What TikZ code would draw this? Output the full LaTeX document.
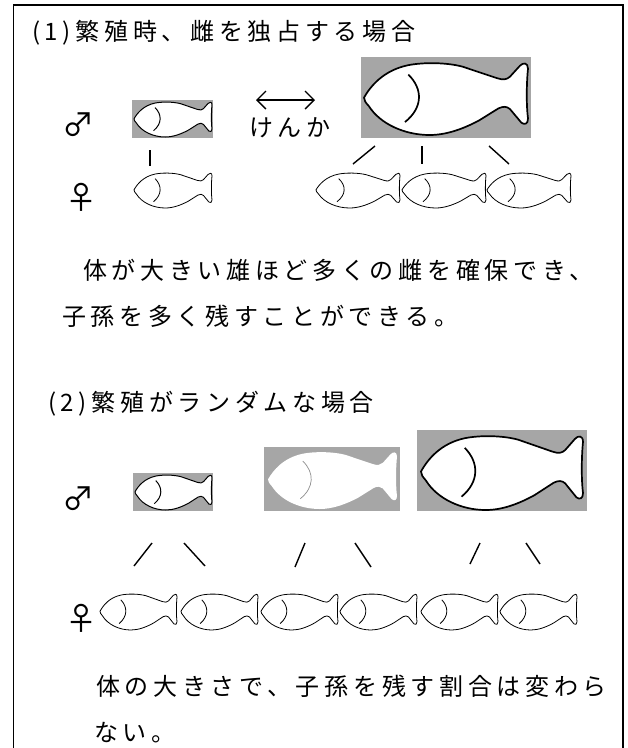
\documentclass[tikz,border=0pt]{standalone}
\usepackage{fontspec}
\setmainfont{Noto Sans CJK JP}
\newfontfamily\jpfont[LetterSpace=19.5]{Noto Sans CJK JP}
\usetikzlibrary{arrows.meta}
\definecolor{boxgray}{RGB}{166,166,166}
\definecolor{gillgray}{RGB}{140,140,140}

% one fish, head to the left, in a W x H box whose top left corner is (x,y)
% #1 x, #2 y, #3 W, #4 H, #5 outline style, #6 gill style
\newcommand\drawfish[6]{%
  \begin{scope}[shift={(#1,#2)},xscale=#3,yscale=#4]
    \path[#5] (0,0.48)
      .. controls (0.04,0.32) and (0.12,0.10) .. (0.27,0.03)
      .. controls (0.36,-0.01) and (0.50,-0.01) .. (0.60,0.05)
      -- (0.81,0.21)
      .. controls (0.85,0.24) and (0.87,0.23) .. (0.89,0.19)
      -- (0.95,0.04)
      .. controls (0.97,-0.01) and (1.00,-0.01) .. (1.00,0.08)
      .. controls (0.99,0.30) and (0.99,0.60) .. (1.00,0.77)
      .. controls (1.00,0.85) and (0.98,0.86) .. (0.96,0.83)
      -- (0.89,0.64)
      .. controls (0.87,0.60) and (0.85,0.60) .. (0.82,0.63)
      -- (0.70,0.80)
      .. controls (0.60,0.92) and (0.50,1.00) .. (0.40,1.00)
      .. controls (0.25,1.00) and (0.10,0.85) .. (0.03,0.60)
      .. controls (0.01,0.55) and (0.00,0.52) .. (0,0.48) -- cycle;
    \path[#6] (0.27,0.16) .. controls (0.36,0.36) and (0.36,0.62) .. (0.25,0.82);
  \end{scope}}

\tikzset{
  jtext/.style={font=\jpfont\fontsize{24}{24}\selectfont,anchor=west,inner sep=0pt},
  sexsym/.style={font=\fontsize{32}{32}\selectfont,inner sep=0pt},
  malebox/.style={fill=boxgray,draw=none,inner sep=0pt,outer sep=0pt,anchor=north west},
  fishbody/.style={fill=white,draw=black,line join=round},
  thinfish/.style={fishbody,line width=0.8pt},
  midfish/.style={fishbody,line width=1pt},
  boldfish/.style={fishbody,line width=1.7pt},
  ghostfish/.style={fill=white,draw=none},
  thingill/.style={draw=black,line width=0.8pt},
  midgill/.style={draw=black,line width=1pt},
  boldgill/.style={draw=black,line width=1.7pt},
  ghostgill/.style={draw=gillgray,line width=0.7pt},
  link/.style={line width=1.4pt},
}

\begin{document}
\begin{tikzpicture}[x=1pt,y=-1pt]
  \useasboundingbox (0,0) rectangle (628,748);
  \fill[white] (0,0) rectangle (628,748);

  % outer frame, open at the bottom
  \draw[line width=1.6pt] (13.5,760) -- (13.5,5) -- (623,5) -- (623,760);

  % ---------- (1) ----------
  \node[jtext] (title1) at (32,33) {(1)繁殖時、雌を独占する場合};

  \node[sexsym] (male1) at (79,125) {♂};
  \node[sexsym] (female1) at (81,197) {♀};

  \node[malebox,minimum width=81pt,minimum height=38pt] (ma) at (132,100) {};
  \drawfish{134}{102}{78}{35}{midfish}{midgill}

  \node[malebox,minimum width=170pt,minimum height=81pt] (mb) at (361,57) {};
  \drawfish{364}{63}{164}{72}{boldfish}{boldgill}

  \coordinate (fightL) at (256,100);
  \coordinate (fightR) at (315,100);
  \draw[line width=1.4pt,{Straight Barb[length=9pt,width=18pt]}-{Straight Barb[length=9pt,width=18pt]}] (fightL) -- (fightR);
  \node[jtext] (kenka) at (249,128) {けんか};

  \coordinate (a1) at (150,150); \coordinate (a2) at (150,166);
  \coordinate (b1) at (375,146); \coordinate (b2) at (353,164);
  \coordinate (c1) at (422,146); \coordinate (c2) at (422,164);
  \coordinate (d1) at (489,146); \coordinate (d2) at (509,164);
  \draw[link] (a1) -- (a2);
  \draw[link] (b1) -- (b2);
  \draw[link] (c1) -- (c2);
  \draw[link] (d1) -- (d2);

  \drawfish{134}{173}{78}{35}{thinfish}{thingill}
  \drawfish{316}{173}{84}{35}{thinfish}{thingill}
  \drawfish{402}{173}{84}{35}{thinfish}{thingill}
  \drawfish{487}{173}{84}{35}{thinfish}{thingill}

  \node[jtext] (p1a) at (83,270) {体が大きい雄ほど多くの雌を確保でき、};
  \node[jtext] (p1b) at (62,316) {子孫を多く残すことができる。};

  % ---------- (2) ----------
  \node[jtext] (title2) at (48,404) {(2)繁殖がランダムな場合};

  \node[sexsym] (male2) at (79,499) {♂};
  \node[sexsym] (female2) at (81,618) {♀};

  \node[malebox,minimum width=80pt,minimum height=38pt] (mc) at (133,473) {};
  \drawfish{135}{475}{77}{35}{midfish}{midgill}

  \node[malebox,minimum width=136pt,minimum height=64pt] (md) at (264,447) {};
  \drawfish{268}{452}{129}{57}{ghostfish}{ghostgill}

  \node[malebox,minimum width=170pt,minimum height=81pt] (me) at (417,430) {};
  \drawfish{421}{436}{162}{74}{boldfish}{boldgill}

  \coordinate (e1) at (152,543); \coordinate (e2) at (134,566);
  \coordinate (f1) at (184,543); \coordinate (f2) at (205,566);
  \coordinate (g1) at (305,543); \coordinate (g2) at (295,567);
  \coordinate (h1) at (355,543); \coordinate (h2) at (371,567);
  \coordinate (i1) at (480,543); \coordinate (i2) at (470,564);
  \coordinate (j1) at (526,543); \coordinate (j2) at (540,564);
  \draw[link] (e1) -- (e2);
  \draw[link] (f1) -- (f2);
  \draw[link] (g1) -- (g2);
  \draw[link] (h1) -- (h2);
  \draw[link] (i1) -- (i2);
  \draw[link] (j1) -- (j2);

  \foreach \fx in {100,181,261,340,421,500}{
    \drawfish{\fx}{594}{77}{36}{thinfish}{thingill}
  }

  \node[jtext] (p2a) at (96,686) {体の大きさで、子孫を残す割合は変わら};
  \node[jtext] (p2b) at (94,733) {ない。};
\end{tikzpicture}
\end{document}
